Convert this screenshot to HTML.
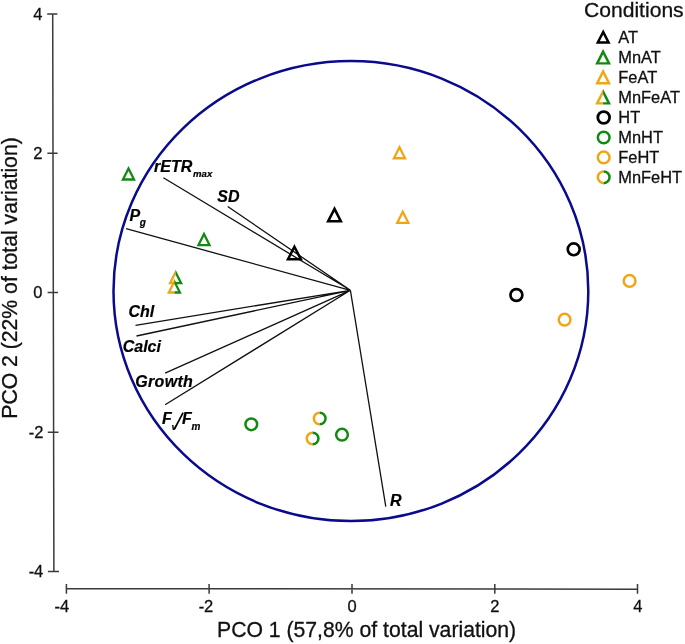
<!DOCTYPE html>
<html>
<head>
<meta charset="utf-8">
<title>PCO</title>
<style>
html,body{margin:0;padding:0;background:#fff;}
body{width:685px;height:644px;overflow:hidden;}
svg{display:block;will-change:transform;}
text{font-family:"Liberation Sans",sans-serif;fill:#111;font-kerning:none;stroke:#111;stroke-width:0.3px;}
.tk{font-size:16.5px;}
.ax{font-size:21.2px;}
.lg{font-size:16.4px;}
.lg text{font-kerning:normal;}
.v{font-size:16px;font-weight:bold;font-style:italic;fill:#000;stroke:#000;stroke-width:0.2px;}
.s{font-size:10px;}
.ln{stroke:#111;stroke-width:1.3;fill:none;}
.axl{stroke:#3a3a3a;stroke-width:1.5;fill:none;}
.tri{fill:none;stroke-width:2.3;stroke-linejoin:miter;stroke-miterlimit:10;}
.trib{fill:none;stroke-width:2.5;stroke-linejoin:miter;stroke-miterlimit:10;stroke:#000;}
.c{fill:none;stroke-width:2.5;}
.g{stroke:#118a11;}
.o{stroke:#f0a614;}
.k{stroke:#000;}
</style>
</head>
<body>
<svg width="685" height="644" viewBox="0 0 685 644">
<defs>
<clipPath id="L"><rect x="-10" y="-12" width="10" height="24"/></clipPath>
<clipPath id="R"><rect x="0" y="-12" width="10" height="24"/></clipPath>
<path id="t1" class="tri" d="M0,-5.5 L-5.53,5.5 L5.53,5.5 Z"/>
<g id="t2">
  <path class="tri o" d="M0,-5.5 L-5.53,5.5 L5.53,5.5 Z" clip-path="url(#L)"/>
  <path class="tri g" d="M0,-5.5 L-5.53,5.5 L5.53,5.5 Z" clip-path="url(#R)"/>
</g>
<g id="c2">
  <circle class="c o" r="5.85" clip-path="url(#L)"/>
  <circle class="c g" r="5.85" clip-path="url(#R)"/>
</g>
</defs>
<rect width="685" height="644" fill="#fff"/>

<!-- axes -->
<path class="axl" d="M52.7,14 L53.9,571.5 M47.2,14 H57.4 M47.4,153.2 H57.6 M47.6,292.4 H58 M47.8,432.2 H58.5 M47.9,571.5 H59"/>
<path class="axl" d="M66.4,588.5 L637.5,589.3 M66.4,584 V593.8 M209.1,584 V593.8 M352,584 V593.8 M494.8,584 V593.8 M637.5,584 V593.8"/>

<!-- tick labels -->
<g class="tk">
<text x="42.5" y="20.2" text-anchor="end">4</text>
<text x="42.5" y="159.1" text-anchor="end">2</text>
<text x="42.5" y="298.1" text-anchor="end">0</text>
<text x="43.5" y="438.1" text-anchor="end">-2</text>
<text x="43.3" y="577.3" text-anchor="end">-4</text>
<text x="69.2" y="611.6" text-anchor="end">-4</text>
<text x="213.3" y="611.6" text-anchor="end">-2</text>
<text x="352.2" y="611.6" text-anchor="middle">0</text>
<text x="494.8" y="611.6" text-anchor="middle">2</text>
<text x="637.8" y="611.6" text-anchor="middle">4</text>
</g>

<!-- axis titles -->
<text class="ax" x="366.6" y="636.8" text-anchor="middle">PCO 1 (57,8% of total variation)</text>
<text class="ax" transform="translate(17,278) rotate(-90)" text-anchor="middle">PCO 2 (22% of total variation)</text>

<!-- circle -->
<path d="M570.23,379.07 C546.13,435.42 499.92,480.20 441.75,503.54 C383.58,526.89 318.22,526.89 260.05,503.54 C201.88,480.20 155.67,435.42 131.57,379.07 C107.48,322.71 107.48,259.39 131.57,203.03 C155.67,146.68 201.88,101.90 260.05,78.56 C318.22,55.21 383.58,55.21 441.75,78.56 C499.92,101.90 546.13,146.68 570.23,203.03 C594.32,259.39 594.32,322.71 570.23,379.07 Z" fill="none" stroke="#0a0a8c" stroke-width="2.5"/>

<!-- vectors -->
<path class="ln" d="M350.4,290.3 L163.4,177.7 M350.4,290.3 L227.7,206.5 M350.4,290.3 L126.1,228.7 M350.4,290.3 L135.5,325.3 M350.4,290.3 L136.5,336 M350.4,290.3 L165.1,373.2 M350.4,290.3 L165.1,404.8 M350.4,290.3 L385.8,506.6"/>

<!-- vector labels -->
<text class="v" x="154" y="171.5">rETR<tspan class="s" dy="5" dx="0.8" style="font-size:9.6px">max</tspan></text>
<text class="v" x="217.3" y="202">SD</text>
<text class="v" x="129.6" y="220.6">P<tspan class="s" dy="5.2" dx="-0.4">g</tspan></text>
<text class="v" x="128.4" y="317.3">Chl</text>
<text class="v" x="122.7" y="351.5">Calci</text>
<text class="v" x="135.3" y="387.3" style="letter-spacing:0.3px">Growth</text>
<text class="v" x="162" y="424.2">F</text>
<text class="v s" x="171.5" y="429.5" style="font-size:9.6px">v</text>
<path d="M174.4,429.2 L183.1,412.6" stroke="#000" stroke-width="1.7" fill="none"/>
<text class="v" x="181.9" y="424.2">F</text>
<text class="v s" x="191.5" y="429.7">m</text>
<text class="v" x="390" y="505.8">R</text>

<!-- data: triangles -->
<path class="trib" d="M334.5,208.85 L328.1,221.35 L340.9,221.35 Z"/>
<path class="trib" d="M294.4,246.7 L288,259.2 L300.8,259.2 Z"/>
<use href="#t1" class="g" x="128.5" y="174"/>
<use href="#t1" class="g" x="204" y="239.6"/>
<use href="#t1" class="o" x="399.5" y="152.75"/>
<use href="#t1" class="o" x="402.8" y="217.35"/>
<use href="#t2" x="175.6" y="277.7"/>
<use href="#t2" x="174.4" y="287"/>

<!-- data: circles -->
<circle class="c k" cx="573.7" cy="249.3" r="5.95" style="stroke-width:2.7"/>
<circle class="c k" cx="516.4" cy="295" r="5.95" style="stroke-width:2.7"/>
<circle class="c o" cx="629.6" cy="280.9" r="5.85"/>
<circle class="c o" cx="564.6" cy="319.7" r="5.85"/>
<circle class="c g" cx="251.3" cy="424.3" r="5.85"/>
<circle class="c g" cx="342" cy="434.7" r="5.85"/>
<use href="#c2" x="319.7" y="418.5"/>
<use href="#c2" x="312.6" y="438.5"/>

<!-- legend -->
<text x="584" y="16.8" style="font-size:21.1px">Conditions</text>
<g class="lg">
<text x="618.3" y="43.1">AT</text>
<text x="618.3" y="63.1">MnAT</text>
<text x="618.3" y="83">FeAT</text>
<text x="618.3" y="102.9">MnFeAT</text>
<text x="618.3" y="122.8">HT</text>
<text x="618.3" y="142.7">MnHT</text>
<text x="618.3" y="162.6">FeHT</text>
<text x="618.3" y="182.6">MnFeHT</text>
</g>
<path class="trib" d="M603.2,32.05 L597.8,42.55 L608.6,42.55 Z"/>
<use href="#t1" class="g" transform="translate(603.1,57.5) scale(1.07)"/>
<use href="#t1" class="o" transform="translate(603.1,77.4) scale(1.07)"/>
<use href="#t2" transform="translate(603.1,97.5) scale(1.07)"/>
<circle class="c k" cx="603.7" cy="117.5" r="5.9" style="stroke-width:2.8"/>
<circle class="c g" cx="603.7" cy="137.5" r="5.85"/>
<circle class="c o" cx="603.7" cy="157.4" r="5.85"/>
<use href="#c2" x="603.7" y="177.3"/>
</svg>
</body>
</html>
